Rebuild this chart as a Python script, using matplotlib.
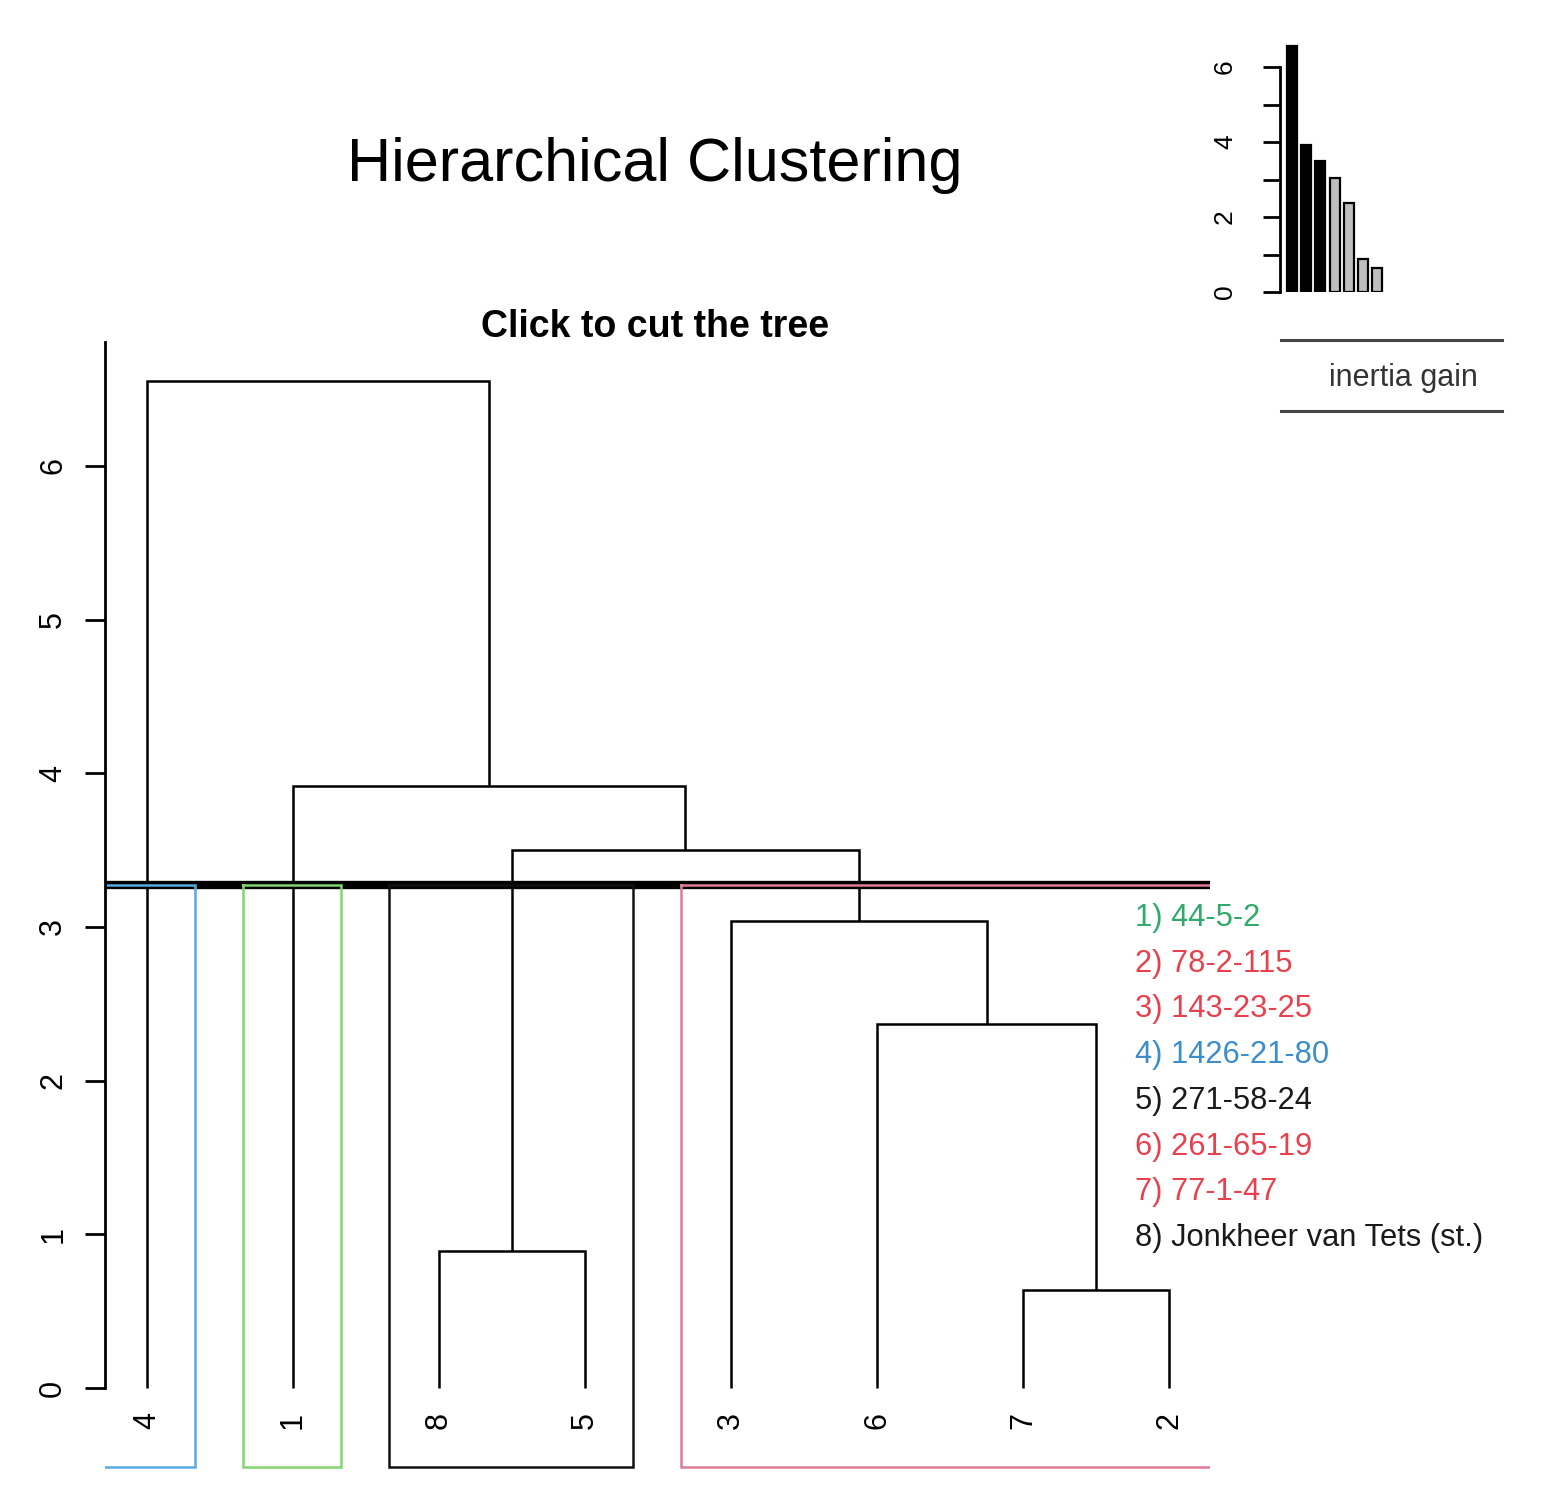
import matplotlib
matplotlib.use("Agg")
import matplotlib.pyplot as plt
from matplotlib.lines import Line2D

plt.rcParams['font.family'] = ['Liberation Sans', 'DejaVu Sans']

# ---------------- data ----------------
# R-style hclust merge matrix (negative = singleton leaf, positive = earlier merge)
merge = [(-7, -2), (-8, -5), (-6, 1), (-3, 3), (2, 4), (-1, 5), (-4, 6)]
heights = [0.64, 0.89, 2.37, 3.04, 3.50, 3.92, 6.55]
cut_height = 3.27
inertia_gain = [6.55, 3.92, 3.50, 3.04, 2.37, 0.89, 0.64]
n_black_bars = 3
legend_labels = ["1) 44-5-2", "2) 78-2-115", "3) 143-23-25", "4) 1426-21-80",
                 "5) 271-58-24", "6) 261-65-19", "7) 77-1-47", "8) Jonkheer van Tets (st.)"]
rect_colors = ["#5AA8E2", "#82D66E", "#111111", "#E07B95"]
text_colors = ["#3C8DCB", "#2FAA6B", "#1A1A1A", "#E8414E"]
yticks_main = [0, 1, 2, 3, 4, 5, 6]
yticks_inset = [0, 1, 2, 3, 4, 5, 6]

# ---------------- figure ----------------
W, H = 1564, 1495
fig = plt.figure(figsize=(W / 100, H / 100), dpi=100)
fig.patch.set_facecolor("white")


def px_box(l, t, r, b):
    return [l / W, 1 - b / H, (r - l) / W, (b - t) / H]


def fx(x):
    return x / W


def fy(y):
    return 1 - y / H


# main axes: pixel mapping leaf i -> 147 + 146*(i-1), y 0 -> 1388, 153.67 px/unit
ax = fig.add_axes(px_box(105, 330, 1210, 1480))
ax.set_xlim(1 + (105 - 147) / 146, 1 + (1210 - 147) / 146)
ax.set_ylim(-(1480 - 1388) / 153.67, (1388 - 330) / 153.67)
for s in ["top", "right", "bottom"]:
    ax.spines[s].set_visible(False)
ax.spines["left"].set_bounds(0, 6.81)
ax.spines["left"].set_linewidth(2.0)
ax.set_xticks([])
ax.set_yticks(yticks_main)
ax.set_yticklabels([str(v) for v in yticks_main], rotation=90, va="center")
ax.tick_params(axis="y", length=14.5, width=2.0, pad=12, labelsize=22)


# leaf ordering
def order(node):
    if node < 0:
        return [-node]
    a, b = merge[node - 1]
    return order(a) + order(b)


root = len(merge)
leaf_order = order(root)
leaf_x = {leaf: i + 1 for i, leaf in enumerate(leaf_order)}


def pos(node):
    if node < 0:
        return leaf_x[-node], 0.0
    a, b = merge[node - 1]
    xa, _ = pos(a)
    xb, _ = pos(b)
    return (xa + xb) / 2, heights[node - 1]


lw_tree = 1.8
for k, (a, b) in enumerate(merge):
    h = heights[k]
    xa, ya = pos(a)
    xb, yb = pos(b)
    ax.plot([xa, xa, xb, xb], [ya, h, h, yb], color="black", lw=lw_tree,
            solid_joinstyle="miter", solid_capstyle="butt")

# leaf labels
for leaf, x in leaf_x.items():
    ax.text(x, -0.21, str(leaf), rotation=90, ha="center", va="center", fontsize=22)


# clusters at cut
def clusters(node):
    if node < 0 or heights[node - 1] < cut_height:
        return [order(node)]
    a, b = merge[node - 1]
    return clusters(a) + clusters(b)


cl = clusters(root)
rect_bottom = -(1467 - 1388) / 153.67
ax.axhline(cut_height, color="black", lw=6)
m = 0
leaf_cluster = {}
for ci, members in enumerate(cl):
    x0 = m + 0.66
    x1 = m + len(members) + 0.33
    ax.plot([x0, x1, x1, x0, x0], [cut_height, cut_height, rect_bottom, rect_bottom, cut_height],
            color=rect_colors[ci], lw=1.8, solid_joinstyle="miter")
    for lf in members:
        leaf_cluster[lf] = ci
    m += len(members)

# legend text
for i, lab in enumerate(legend_labels):
    c = text_colors[leaf_cluster[i + 1]]
    fig.text(fx(1135), fy(918 + i * 45.7), lab, ha="left", va="center", fontsize=22.2, color=c)

# titles
fig.text(fx(655), fy(165), "Hierarchical Clustering", ha="center", va="center", fontsize=44)
fig.text(fx(655), fy(327), "Click to cut the tree", ha="center", va="center",
         fontsize=27, fontweight="bold")

# inset bar chart
axi = fig.add_axes(px_box(1280, 40, 1400, 292))
axi.set_xlim(1 + (1280 - 1292) / 14.2, 1 + (1400 - 1292) / 14.2)
axi.set_ylim(0, (292 - 40) / 37.5)
for s in ["top", "right", "bottom"]:
    axi.spines[s].set_visible(False)
axi.spines["left"].set_bounds(0, 6)
axi.spines["left"].set_linewidth(2.0)
axi.set_xticks([])
axi.set_yticks(yticks_inset)
axi.set_yticklabels([str(v) if v % 2 == 0 else "" for v in yticks_inset], rotation=90, va="center")
axi.tick_params(axis="y", length=12, width=2.0, pad=19, labelsize=19)
bar_colors = ["black" if i < n_black_bars else "#BEBEBE" for i in range(len(inertia_gain))]
axi.bar(range(1, len(inertia_gain) + 1), inertia_gain, width=0.7, color=bar_colors,
        edgecolor="black", linewidth=1.6)

# inertia gain label with lines
for yy in (340, 411):
    fig.add_artist(Line2D([fx(1281), fx(1502)], [fy(yy), fy(yy)], color="#444444", lw=2.2))
fig.text(fx(1403), fy(378), "inertia gain", ha="center", va="center", fontsize=22, color="#333333")

fig.savefig("out.png", dpi=100)
